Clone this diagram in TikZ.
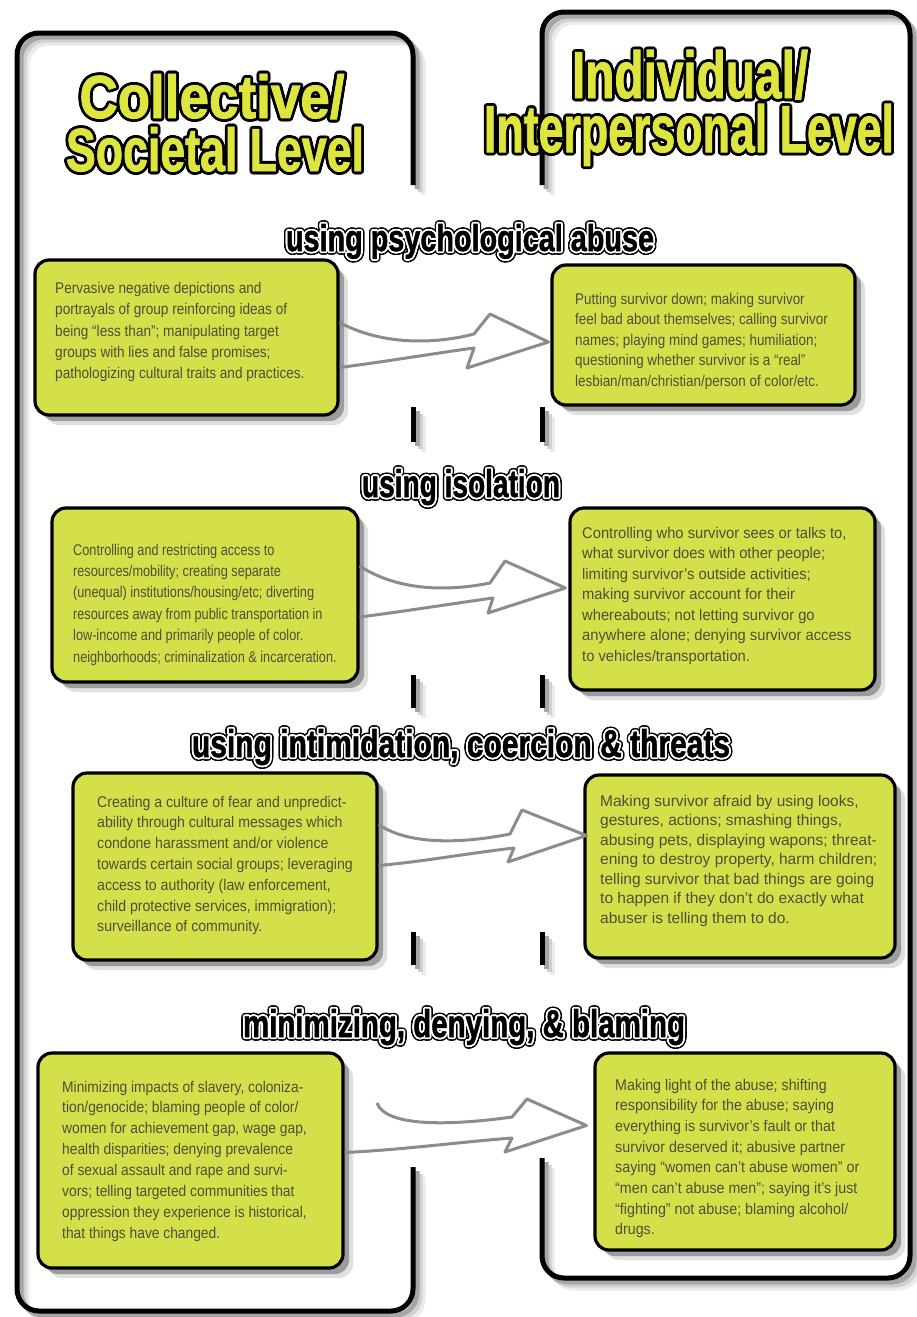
\documentclass[tikz,border=0pt]{standalone}
\usepackage{fontspec}
\usepackage{graphicx}
\usetikzlibrary{calc,shadows}
\setmainfont{Liberation Sans}
\newfontfamily\hdrfont{Liberation Sans}[UprightFont={* Bold},FakeBold=1.5]
\newfontfamily\bodyfont{Liberation Sans}
\definecolor{hdryellow}{RGB}{221,229,62}
\definecolor{boxy}{RGB}{212,224,74}
\definecolor{txtcol}{RGB}{78,79,56}
\definecolor{arrowgray}{RGB}{140,140,140}

\tikzset{
  hdrnode/.style={inner sep=0pt, outer sep=0pt, anchor=base},
  txt/.style={inner sep=0pt, anchor=base west, text=txtcol, font=\bodyfont},
  box/.style={draw=black, line width=3.2pt, fill=boxy, rounded corners=14pt, inner sep=0pt,
     drop shadow={shadow xshift=10pt, shadow yshift=-10pt, opacity=.12, fill=black},
     drop shadow={shadow xshift=6pt, shadow yshift=-6pt, opacity=.3, fill=black}},
  arr/.style={draw=arrowgray, line width=3pt, line join=round},
  framel/.style={line width=5pt, line cap=butt, rounded corners=22pt}
}

\newcommand\mkhdr[5]{%
  \foreach \a in {0,22.5,...,337.5}
    \node[hdrnode,text=black] at ($(#2)+(\a:2.8)$) {\resizebox{#3pt}{#4pt}{\hdrfont #5}};
  \node[hdrnode,text=hdryellow] (#1) at (#2) {\resizebox{#3pt}{#4pt}{\hdrfont #5}};
}
\newcommand\mksect[5]{%
  \foreach \a in {0,22.5,...,337.5}
    \node[hdrnode,text=black] at ($(#2)+(\a:3.4)$) {\resizebox{#3pt}{#4pt}{\hdrfont #5}};
  \foreach \a in {0,22.5,...,337.5}
    \node[hdrnode,text=white] at ($(#2)+(\a:1.8)$) {\resizebox{#3pt}{#4pt}{\hdrfont #5}};
  \node[hdrnode,text=black] (#1) at (#2) {\resizebox{#3pt}{#4pt}{\hdrfont #5}};
}
\newcommand\btxt[5]{%
  \node[txt] (#1) at (#2) {\scalebox{#3}[1]{\fontsize{15.5}{#4}\selectfont\begin{tabular}[t]{@{}l@{}}#5\end{tabular}}};
}

\begin{document}
\begin{tikzpicture}[x=1pt,y=-1pt]
\fill[white] (0,0) rectangle (917,1317);
\useasboundingbox (0,0) rectangle (917,1317);

% frames with shadows
\foreach \s/\c in {10/black!8, 7/black!18, 4/black!35, 0/black}{
  \begin{scope}[shift={(\s,\s)}]
    \draw[framel, draw=\c] (413,185) |- (17,33) |- (413,1311) -- (413,1167);
    \draw[framel, draw=\c] (542,185) |- (910,12) |- (542,1278) -- (542,1158);
    \draw[framel, draw=\c] (413,407) -- (413,442) (413,675) -- (413,708) (413,932) -- (413,965);
    \draw[framel, draw=\c] (542,407) -- (542,442) (542,675) -- (542,708) (542,932) -- (542,965);
  \end{scope}
}

% headers
\mkhdr{h1}{212,118}{265}{44}{Collective/}
\mkhdr{h2}{215,171}{298}{44}{Societal Level}
\mkhdr{h3}{690,98}{236}{48}{Individual/}
\mkhdr{h4}{689,152}{410}{48}{Interpersonal Level}

% section titles
\mksect{s1}{470,251}{368}{27}{using psychological abuse}
\mksect{s2}{461,497}{198}{28}{using isolation}
\mksect{s3}{461,757}{538}{28}{using intimidation, coercion \& threats}
\mksect{s4}{464,1037}{442}{28}{minimizing, denying, \& blaming}

% boxes
\node[box, minimum width=303pt, minimum height=155pt] (b1l) at (186.5,337.5) {};
\node[box, minimum width=303pt, minimum height=140pt] (b1r) at (703.5,335) {};
\node[box, minimum width=306pt, minimum height=174pt] (b2l) at (205,595) {};
\node[box, minimum width=305pt, minimum height=182pt] (b2r) at (722.5,599) {};
\node[box, minimum width=304pt, minimum height=187pt] (b3l) at (225,866.5) {};
\node[box, minimum width=310pt, minimum height=183pt] (b3r) at (740,866.5) {};
\node[box, minimum width=305pt, minimum height=215pt] (b4l) at (190.5,1160.5) {};
\node[box, minimum width=300pt, minimum height=197pt] (b4r) at (745,1151.5) {};

% arrows
\draw[arr] ($(b1l.east)+(0,-15)$) .. controls (385,347) and (440,343) .. (474,334) -- (490,314)
  -- ($(b1r.west)+(-2,7)$) -- (467,368) -- (474,348) .. controls (430,354) and (390,361) .. ($(b1l.east)+(0,30)$);
\draw[arr] ($(b2l.east)+(0,-29)$) .. controls (400,592) and (450,591) .. (490,583) -- (505,561)
  -- ($(b2r.west)+(-3,-11)$) -- (488,613) -- (493,598) .. controls (450,604) and (400,612) .. ($(b2l.east)+(0,22)$);
\draw[arr] ($(b3l.east)+(0,-42)$) .. controls (410,846) and (465,843) .. (510,834) -- (522,810)
  -- ($(b3r.west)+(3,-31)$) -- (508,862) -- (514,848) .. controls (470,853) and (420,862) .. ($(b3l.east)+(0,-1)$);
\coordinate (a4s) at (377,1103);
\draw[arr] (a4s) .. controls (385,1125) and (440,1127) .. (512,1117) -- (527,1099)
  -- ($(b4r.west)+(-7,-26)$) -- (505,1152) -- (512,1138) .. controls (460,1142) and (400,1150) .. ($(b4l.east)+(0,-8)$);

% texts
\btxt{t1l}{55,293.5}{0.877}{21.3}{Pervasive negative depictions and\\portrayals of group reinforcing ideas of\\being “less than”; manipulating target\\groups with lies and false promises;\\pathologizing cultural traits and practices.}
\btxt{t1r}{575,304}{0.865}{20.5}{Putting survivor down; making survivor\\feel bad about themselves; calling survivor\\names; playing mind games; humiliation;\\questioning whether survivor is a “real”\\lesbian/man/christian/person of color/etc.}
\btxt{t2l}{73,555}{0.82}{21.4}{Controlling and restricting access to\\resources/mobility; creating separate\\(unequal) institutions/housing/etc; diverting\\resources away from public transportation in\\low-income and primarily people of color.\\neighborhoods; criminalization \& incarceration.}
\btxt{t2r}{582,538}{0.95}{20.5}{Controlling who survivor sees or talks to,\\what survivor does with other people;\\limiting survivor’s outside activities;\\making survivor account for their\\whereabouts; not letting survivor go\\anywhere alone; denying survivor access\\to vehicles/transportation.}
\btxt{t3l}{97,807}{0.91}{20.8}{Creating a culture of fear and unpredict-\\ability through cultural messages which\\condone harassment and/or violence\\towards certain social groups; leveraging\\access to authority (law enforcement,\\child protective services, immigration);\\surveillance of community.}
\btxt{t3r}{600,806}{1.0}{19.5}{Making survivor afraid by using looks,\\gestures, actions; smashing things,\\abusing pets, displaying wapons; threat-\\ening to destroy property, harm children;\\telling survivor that bad things are going\\to happen if they don’t do exactly what\\abuser is telling them to do.}
\btxt{t4l}{62,1092}{0.89}{20.9}{Minimizing impacts of slavery, coloniza-\\tion/genocide; blaming people of color/\\women for achievement gap, wage gap,\\health disparities; denying prevalence\\of sexual assault and rape and survi-\\vors; telling targeted communities that\\oppression they experience is historical,\\that things have changed.}
\btxt{t4r}{615,1090}{0.92}{20.7}{Making light of the abuse; shifting\\responsibility for the abuse; saying\\everything is survivor’s fault or that\\survivor deserved it; abusive partner\\saying “women can’t abuse women” or\\“men can’t abuse men”; saying it’s just\\“fighting” not abuse; blaming alcohol/\\drugs.}
\end{tikzpicture}
\end{document}
